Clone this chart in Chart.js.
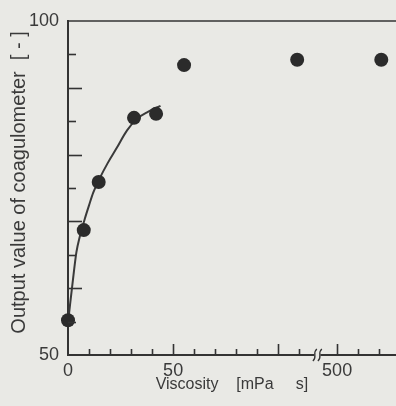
<!DOCTYPE html>
<html>
<head>
<meta charset="utf-8">
<script src="https://cdn.jsdelivr.net/npm/chart.js@4.4.1/dist/chart.umd.min.js"></script>
<style>
  html, body { margin: 0; padding: 0; background: #e9e9e5; }
  #wrap { width: 396px; height: 406px; }
</style>
</head>
<body>
<div id="wrap"><canvas id="chart" width="396" height="406"></canvas></div>
<script>
// measured points
const viscosity   = [0, 7.5, 14.6, 31.4, 41.9, 55.2, 109, 521];
const outputValue = [55.2, 68.7, 75.9, 85.5, 86.1, 93.4, 94.2, 94.2];

// fitted curve
const fitViscosity = [0, 1, 2, 3, 4, 5.5, 8, 10, 12, 15, 19, 23, 28, 33, 38, 44];
const fitOutput    = [54.8, 57.6, 60.3, 63.0, 65.4, 67.6, 70.4, 72.4, 74.3, 76.4, 78.8, 80.9, 83.6, 85.4, 86.4, 87.3];

// axis ticks
const xTickValues = [0, 10, 20, 30, 40, 50, 60, 70, 80, 90, 100, 110, 500, 510, 520];
const xTickLabels = [0, 50, 500];
const xMajorTicks = [50, 100, 500];
const yTickLabels = [50, 100];

// broken x axis: 0..~119 then 500.. (500 sits at 128 on the drawn axis)
const BREAK_AT = 118.6;
const BREAK_SHIFT = 372;
const toAxis = v => v < 200 ? v : v - BREAK_SHIFT;
const fromAxis = a => a < BREAK_AT ? a : a + BREAK_SHIFT;

const FONT = "'Liberation Sans', Arial, sans-serif";
const INK = "#333";
const BG = "#e9e9e5";

const innerTicks = {
  id: "innerTicks",
  afterDraw(chart) {
    const { ctx, chartArea: a, scales: { x, y } } = chart;
    ctx.save();
    ctx.strokeStyle = INK;
    ctx.lineWidth = 1.6;

    // top frame line
    ctx.beginPath();
    ctx.moveTo(a.left, a.top);
    ctx.lineTo(a.right, a.top);
    ctx.stroke();

    // y ticks, pointing into the plot
    y.ticks.forEach(t => {
      if (t.value <= 50 || t.value >= 100) return;
      const py = Math.round(y.getPixelForValue(t.value)) + 0.5;
      const len = t.value % 10 === 0 ? 14 : 8;
      ctx.beginPath();
      ctx.moveTo(a.left, py);
      ctx.lineTo(a.left + len, py);
      ctx.stroke();
    });

    // x ticks
    x.ticks.forEach(t => {
      const v = Math.round(fromAxis(t.value));
      if (v === 0) return;
      const px = Math.round(x.getPixelForValue(t.value)) + 0.5;
      const len = xMajorTicks.includes(v) ? 11 : 6;
      ctx.beginPath();
      ctx.moveTo(px, a.bottom);
      ctx.lineTo(px, a.bottom - len);
      ctx.stroke();
    });

    // axis break mark
    const bx = x.getPixelForValue(BREAK_AT);
    ctx.fillStyle = BG;
    ctx.fillRect(bx - 3, a.bottom - 2, 6, 4);
    ctx.lineWidth = 1.3;
    [-2.5, 2.5].forEach(dx => {
      ctx.beginPath();
      ctx.moveTo(bx + dx - 2, a.bottom + 6);
      ctx.bezierCurveTo(bx + dx + 3, a.bottom + 2, bx + dx - 3, a.bottom - 2, bx + dx + 2, a.bottom - 6);
      ctx.stroke();
    });
    ctx.restore();
  }
};

new Chart(document.getElementById("chart"), {
  type: "scatter",
  data: {
    datasets: [
      {
        label: "measured",
        data: viscosity.map((v, i) => ({ x: toAxis(v), y: outputValue[i] })),
        pointRadius: 7,
        pointHoverRadius: 7,
        backgroundColor: "#2b2b2b",
        borderColor: "#2b2b2b",
        borderWidth: 0,
        clip: false
      },
      {
        label: "fit",
        data: fitViscosity.map((v, i) => ({ x: toAxis(v), y: fitOutput[i] })),
        showLine: true,
        pointRadius: 0,
        borderColor: "#3a3a3a",
        borderWidth: 2,
        cubicInterpolationMode: "monotone",
        clip: false
      }
    ]
  },
  options: {
    responsive: false,
    animation: false,
    layout: { autoPadding: false, padding: { left: 0, top: 21, right: 0, bottom: 0 } },
    plugins: {
      legend: { display: false },
      tooltip: { enabled: false }
    },
    scales: {
      x: {
        type: "linear",
        min: 0,
        max: 156,
        afterBuildTicks: s => { s.ticks = xTickValues.map(v => ({ value: toAxis(v) })); },
        afterFit: s => { s.height = 51; },
        grid: { display: false, drawTicks: false },
        border: { display: true, color: INK, width: 2 },
        ticks: {
          autoSkip: false,
          maxRotation: 0,
          padding: 5,
          color: "#3a3a3a",
          font: { family: FONT, size: 18 },
          callback: val => {
            const v = Math.round(fromAxis(val));
            return xTickLabels.includes(v) ? String(v) : "";
          }
        },
        title: {
          display: true,
          text: "Viscosity    [mPa     s]",
          color: "#3a3a3a",
          font: { family: FONT, size: 16 },
          padding: { top: 0, bottom: 12 }
        }
      },
      y: {
        type: "linear",
        min: 50,
        max: 100,
        afterFit: s => { s.width = 68; },
        grid: { display: false, drawTicks: false },
        border: { display: true, color: INK, width: 2 },
        ticks: {
          stepSize: 5,
          autoSkip: false,
          padding: 9,
          color: "#3a3a3a",
          font: { family: FONT, size: 18 },
          callback: v => yTickLabels.includes(v) ? String(v) : ""
        },
        title: {
          display: true,
          text: "  Output value of coagulometer  [ - ]",
          color: "#3a3a3a",
          font: { family: FONT, size: 20 },
          padding: { top: 7, bottom: 0 }
        }
      }
    }
  },
  plugins: [innerTicks]
});
</script>
</body>
</html>
